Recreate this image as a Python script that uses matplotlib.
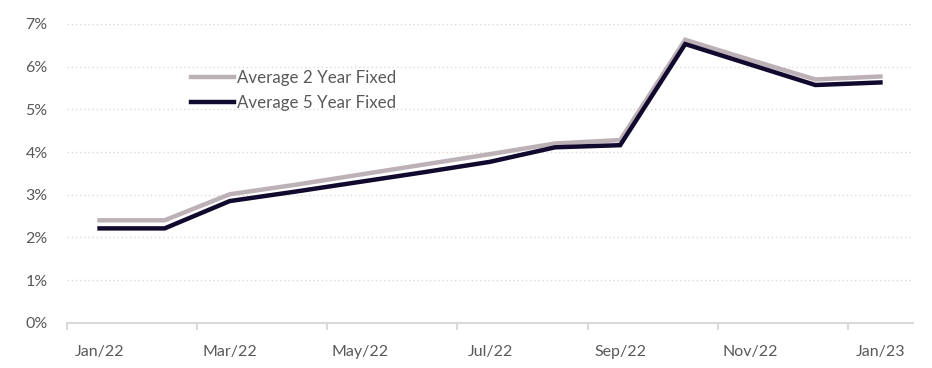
import matplotlib
matplotlib.use("Agg")
import matplotlib.pyplot as plt
from matplotlib.ticker import FixedLocator, PercentFormatter

# --- Data ---
months = ["Jan/22", "Feb/22", "Mar/22", "Apr/22", "May/22", "Jun/22", "Jul/22",
          "Aug/22", "Sep/22", "Oct/22", "Nov/22", "Dec/22", "Jan/23"]
avg_2yr = [2.40, 2.40, 3.01, 3.23, 3.47, 3.71, 3.95, 4.20, 4.28, 6.63, 6.16, 5.70, 5.77]
avg_5yr = [2.21, 2.21, 2.85, 3.07, 3.30, 3.53, 3.77, 4.11, 4.16, 6.53, 6.05, 5.57, 5.63]

plt.rcParams['font.family'] = ['Lato', 'DejaVu Sans']

fig = plt.figure(figsize=(9.32, 3.68), dpi=100)
ax = fig.add_axes([0.0719, 0.1231, 0.9077, 0.8117])

x = list(range(len(months)))
ax.plot(x, avg_2yr, color="#BDB1B8", lw=3.2, solid_joinstyle="miter", label="Average 2 Year Fixed")
ax.plot(x, avg_5yr, color="#12092E", lw=3.2, solid_joinstyle="miter", label="Average 5 Year Fixed")

ax.set_xlim(-0.5, len(months) - 0.5)
ax.set_ylim(0, 7)

# y axis
ax.set_yticks(range(0, 8))
ax.yaxis.set_major_formatter(PercentFormatter(decimals=0))
ax.tick_params(axis="y", length=0, pad=14, labelsize=11.5, labelcolor="#595959")
ax.grid(axis="y", linestyle=(0, (1, 2)), color="#E3D9CF", lw=1)
ax.set_axisbelow(True)

# x axis: labels every other month, tick marks between categories
ax.set_xticks(x[::2])
ax.set_xticklabels(months[::2])
ax.xaxis.set_minor_locator(FixedLocator([i - 0.5 for i in x[::2]]))
ax.tick_params(axis="x", which="major", length=0, pad=16, labelsize=11.5, labelcolor="#595959")
ax.tick_params(axis="x", which="minor", length=5, width=1.5, color="#D9D9D9", direction="out")

for s in ["top", "right", "left"]:
    ax.spines[s].set_visible(False)
ax.spines["bottom"].set_color("#D9D9D9")
ax.spines["bottom"].set_linewidth(1.5)

leg = ax.legend(loc="upper left", bbox_to_anchor=(0.146, 0.845), frameon=False,
                fontsize=12.2, handlelength=2.55, handletextpad=0.2, labelspacing=0.5,
                borderpad=0, borderaxespad=0)
for t in leg.get_texts():
    t.set_color("#595959")

fig.savefig("out.png", dpi=100)
